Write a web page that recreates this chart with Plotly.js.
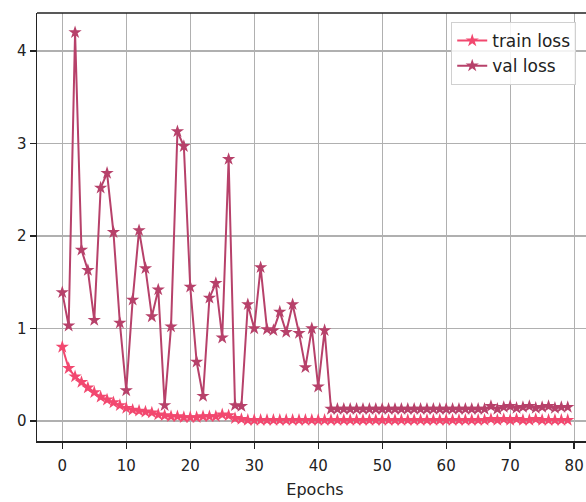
<!DOCTYPE html>
<html>
<head>
<meta charset="utf-8">
<script src="https://cdn.plot.ly/plotly-3.0.1.min.js"></script>
<style>
html,body{margin:0;padding:0;overflow:hidden;background:#fff;}
#chart{width:594px;height:502px;}
</style>
</head>
<body>
<div id="chart"></div>
<script>
const epochs = Array.from({length: 80}, (_, i) => i);

const trainLoss = [
  0.80, 0.57, 0.48, 0.42, 0.36, 0.31, 0.26, 0.23, 0.20, 0.17,
  0.14, 0.12, 0.11, 0.10, 0.09, 0.07, 0.06, 0.05, 0.05, 0.04,
  0.04, 0.04, 0.05, 0.05, 0.05, 0.07, 0.06, 0.03, 0.02, 0.01,
  0.01, 0.01, 0.01, 0.01, 0.01, 0.01, 0.01, 0.01, 0.01, 0.01,
  0.01, 0.01, 0.01, 0.01, 0.01, 0.01, 0.01, 0.01, 0.01, 0.01,
  0.01, 0.01, 0.01, 0.01, 0.01, 0.01, 0.01, 0.01, 0.01, 0.01,
  0.01, 0.01, 0.01, 0.01, 0.01, 0.01, 0.01, 0.02, 0.01, 0.02,
  0.01, 0.02, 0.01, 0.01, 0.02, 0.01, 0.01, 0.01, 0.01, 0.01
];

const valLoss = [
  1.39, 1.03, 4.20, 1.85, 1.63, 1.09, 2.52, 2.68, 2.04, 1.06,
  0.33, 1.31, 2.06, 1.65, 1.13, 1.42, 0.17, 1.02, 3.13, 2.97,
  1.45, 0.64, 0.27, 1.33, 1.49, 0.90, 2.83, 0.17, 0.16, 1.26,
  1.00, 1.66, 0.99, 0.98, 1.18, 0.96, 1.26, 0.95, 0.58, 1.00,
  0.37, 0.98, 0.13, 0.13, 0.13, 0.13, 0.13, 0.13, 0.13, 0.13,
  0.13, 0.13, 0.13, 0.13, 0.13, 0.13, 0.13, 0.13, 0.13, 0.13,
  0.13, 0.13, 0.13, 0.13, 0.13, 0.13, 0.13, 0.16, 0.13, 0.15,
  0.16, 0.14, 0.15, 0.16, 0.14, 0.15, 0.16, 0.14, 0.15, 0.15
];

const xTicks = [0, 10, 20, 30, 40, 50, 60, 70, 80];
const yTicks = [0, 1, 2, 3, 4];

const traces = [
  {
    x: epochs, y: trainLoss, name: 'train loss', type: 'scatter', mode: 'lines+markers',
    line: {color: '#f2486f', width: 2},
    marker: {symbol: 'star', size: 10, color: '#f2486f', line: {width: 0}}
  },
  {
    x: epochs, y: valLoss, name: 'val loss', type: 'scatter', mode: 'lines+markers',
    line: {color: '#b7416a', width: 2},
    marker: {symbol: 'star', size: 10, color: '#b7416a', line: {width: 0}}
  }
];

const axisCommon = {
  showgrid: true, gridcolor: '#b0b0b0', gridwidth: 1.2,
  zeroline: false, showline: true, linecolor: '#222', linewidth: 1.5,
  ticks: 'outside', ticklen: 6, tickcolor: '#222', tickwidth: 1.3,
  tickfont: {family: 'DejaVu Sans, sans-serif', size: 15, color: '#222'}
};

const layout = {
  width: 594, height: 502,
  margin: {l: 37, r: 1, t: 13, b: 61},
  paper_bgcolor: '#fff', plot_bgcolor: '#fff',
  showlegend: true,
  legend: {
    x: 0.745, y: 0.979, xanchor: 'left', yanchor: 'top',
    bgcolor: 'rgba(255,255,255,0.85)', bordercolor: '#d0d0d0', borderwidth: 1,
    font: {family: 'DejaVu Sans, sans-serif', size: 17, color: '#222'},
    itemwidth: 30
  },
  xaxis: Object.assign({}, axisCommon, {
    range: [-3.95, 82.95], tickvals: xTicks, ticktext: xTicks.map(String),
    ticklabelstandoff: 4,
    title: {text: 'Epochs', font: {family: 'DejaVu Sans, sans-serif', size: 16, color: '#222'}, standoff: 10},
    mirror: false
  }),
  yaxis: Object.assign({}, axisCommon, {
    range: [-0.216, 4.41], tickvals: yTicks, ticktext: yTicks.map(String),
    mirror: false
  }),
  shapes: [
    {type: 'line', xref: 'paper', yref: 'paper', x0: 0, x1: 1, y0: 1, y1: 1,
     line: {color: '#222', width: 1.5}}
  ]
};

Plotly.newPlot('chart', traces, layout, {staticPlot: true, displayModeBar: false});
</script>
</body>
</html>
